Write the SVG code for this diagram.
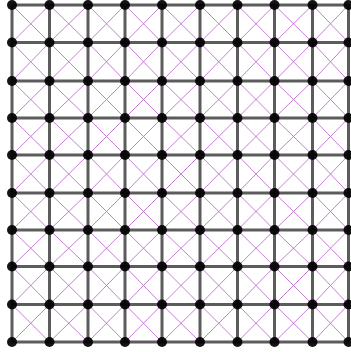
<svg xmlns="http://www.w3.org/2000/svg" width="351" height="352" viewBox="0 0 351 352">
<style>
.n{fill:#000;fill-opacity:0.92;}
.g{stroke:#262626;stroke-opacity:0.75;stroke-width:3;fill:none;}
.d{stroke:#c070d0;stroke-width:0.9;fill:none;}
</style>
<rect width="351" height="352" fill="#fff"/>
<g id="connectors">
<g id="grid">
<line class="g" x1="12" y1="5" x2="348.5" y2="5"/>
<line class="g" x1="12" y1="42.5" x2="348.5" y2="42.5"/>
<line class="g" x1="12" y1="81" x2="348.5" y2="81"/>
<line class="g" x1="12" y1="118" x2="348.5" y2="118"/>
<line class="g" x1="12" y1="155" x2="348.5" y2="155"/>
<line class="g" x1="12" y1="193" x2="348.5" y2="193"/>
<line class="g" x1="12" y1="230" x2="348.5" y2="230"/>
<line class="g" x1="12" y1="266.5" x2="348.5" y2="266.5"/>
<line class="g" x1="12" y1="304.5" x2="348.5" y2="304.5"/>
<line class="g" x1="12" y1="342" x2="348.5" y2="342"/>
<line class="g" x1="12" y1="5" x2="12" y2="342"/>
<line class="g" x1="49.5" y1="5" x2="49.5" y2="342"/>
<line class="g" x1="88" y1="5" x2="88" y2="342"/>
<line class="g" x1="125" y1="5" x2="125" y2="342"/>
<line class="g" x1="162" y1="5" x2="162" y2="342"/>
<line class="g" x1="200" y1="5" x2="200" y2="342"/>
<line class="g" x1="237.5" y1="5" x2="237.5" y2="342"/>
<line class="g" x1="274.5" y1="5" x2="274.5" y2="342"/>
<line class="g" x1="312.5" y1="5" x2="312.5" y2="342"/>
<line class="g" x1="348.5" y1="5" x2="348.5" y2="342"/>
</g>
<g id="diagonals">
<polyline class="d" points="12,5 49.5,42.5 88,81 125,118 162,155 200,193 237.5,230 274.5,266.5 312.5,304.5 348.5,342"/>
<polyline class="d" points="49.5,5 88,42.5 125,81 162,118 200,155 237.5,193 274.5,230 312.5,266.5 348.5,304.5"/>
<polyline class="d" points="88,5 125,42.5 162,81 200,118 237.5,155 274.5,193 312.5,230 348.5,266.5"/>
<polyline class="d" points="125,5 162,42.5 200,81 237.5,118 274.5,155 312.5,193 348.5,230"/>
<polyline class="d" points="162,5 200,42.5 237.5,81 274.5,118 312.5,155 348.5,193"/>
<polyline class="d" points="200,5 237.5,42.5 274.5,81 312.5,118 348.5,155"/>
<polyline class="d" points="237.5,5 274.5,42.5 312.5,81 348.5,118"/>
<polyline class="d" points="274.5,5 312.5,42.5 348.5,81"/>
<polyline class="d" points="312.5,5 348.5,42.5"/>
<polyline class="d" points="12,42.5 49.5,81 88,118 125,155 162,193 200,230 237.5,266.5 274.5,304.5 312.5,342"/>
<polyline class="d" points="12,81 49.5,118 88,155 125,193 162,230 200,266.5 237.5,304.5 274.5,342"/>
<polyline class="d" points="12,118 49.5,155 88,193 125,230 162,266.5 200,304.5 237.5,342"/>
<polyline class="d" points="12,155 49.5,193 88,230 125,266.5 162,304.5 200,342"/>
<polyline class="d" points="12,193 49.5,230 88,266.5 125,304.5 162,342"/>
<polyline class="d" points="12,230 49.5,266.5 88,304.5 125,342"/>
<polyline class="d" points="12,266.5 49.5,304.5 88,342"/>
<polyline class="d" points="12,304.5 49.5,342"/>
<polyline class="d" points="49.5,5 12,42.5"/>
<polyline class="d" points="88,5 49.5,42.5 12,81"/>
<polyline class="d" points="125,5 88,42.5 49.5,81 12,118"/>
<polyline class="d" points="162,5 125,42.5 88,81 49.5,118 12,155"/>
<polyline class="d" points="200,5 162,42.5 125,81 88,118 49.5,155 12,193"/>
<polyline class="d" points="237.5,5 200,42.5 162,81 125,118 88,155 49.5,193 12,230"/>
<polyline class="d" points="274.5,5 237.5,42.5 200,81 162,118 125,155 88,193 49.5,230 12,266.5"/>
<polyline class="d" points="312.5,5 274.5,42.5 237.5,81 200,118 162,155 125,193 88,230 49.5,266.5 12,304.5"/>
<polyline class="d" points="348.5,5 312.5,42.5 274.5,81 237.5,118 200,155 162,193 125,230 88,266.5 49.5,304.5 12,342"/>
<polyline class="d" points="348.5,42.5 312.5,81 274.5,118 237.5,155 200,193 162,230 125,266.5 88,304.5 49.5,342"/>
<polyline class="d" points="348.5,81 312.5,118 274.5,155 237.5,193 200,230 162,266.5 125,304.5 88,342"/>
<polyline class="d" points="348.5,118 312.5,155 274.5,193 237.5,230 200,266.5 162,304.5 125,342"/>
<polyline class="d" points="348.5,155 312.5,193 274.5,230 237.5,266.5 200,304.5 162,342"/>
<polyline class="d" points="348.5,193 312.5,230 274.5,266.5 237.5,304.5 200,342"/>
<polyline class="d" points="348.5,230 312.5,266.5 274.5,304.5 237.5,342"/>
<polyline class="d" points="348.5,266.5 312.5,304.5 274.5,342"/>
<polyline class="d" points="348.5,304.5 312.5,342"/>
</g>
</g>
<g id="nodes">
<g id="n0_0"><circle class="n" cx="12" cy="5" r="5"/></g>
<g id="n0_1"><circle class="n" cx="49.5" cy="5" r="5"/></g>
<g id="n0_2"><circle class="n" cx="88" cy="5" r="5"/></g>
<g id="n0_3"><circle class="n" cx="125" cy="5" r="5"/></g>
<g id="n0_4"><circle class="n" cx="162" cy="5" r="5"/></g>
<g id="n0_5"><circle class="n" cx="200" cy="5" r="5"/></g>
<g id="n0_6"><circle class="n" cx="237.5" cy="5" r="5"/></g>
<g id="n0_7"><circle class="n" cx="274.5" cy="5" r="5"/></g>
<g id="n0_8"><circle class="n" cx="312.5" cy="5" r="5"/></g>
<g id="n0_9"><circle class="n" cx="348.5" cy="5" r="5"/></g>
<g id="n1_0"><circle class="n" cx="12" cy="42.5" r="5"/></g>
<g id="n1_1"><circle class="n" cx="49.5" cy="42.5" r="5"/></g>
<g id="n1_2"><circle class="n" cx="88" cy="42.5" r="5"/></g>
<g id="n1_3"><circle class="n" cx="125" cy="42.5" r="5"/></g>
<g id="n1_4"><circle class="n" cx="162" cy="42.5" r="5"/></g>
<g id="n1_5"><circle class="n" cx="200" cy="42.5" r="5"/></g>
<g id="n1_6"><circle class="n" cx="237.5" cy="42.5" r="5"/></g>
<g id="n1_7"><circle class="n" cx="274.5" cy="42.5" r="5"/></g>
<g id="n1_8"><circle class="n" cx="312.5" cy="42.5" r="5"/></g>
<g id="n1_9"><circle class="n" cx="348.5" cy="42.5" r="5"/></g>
<g id="n2_0"><circle class="n" cx="12" cy="81" r="5"/></g>
<g id="n2_1"><circle class="n" cx="49.5" cy="81" r="5"/></g>
<g id="n2_2"><circle class="n" cx="88" cy="81" r="5"/></g>
<g id="n2_3"><circle class="n" cx="125" cy="81" r="5"/></g>
<g id="n2_4"><circle class="n" cx="162" cy="81" r="5"/></g>
<g id="n2_5"><circle class="n" cx="200" cy="81" r="5"/></g>
<g id="n2_6"><circle class="n" cx="237.5" cy="81" r="5"/></g>
<g id="n2_7"><circle class="n" cx="274.5" cy="81" r="5"/></g>
<g id="n2_8"><circle class="n" cx="312.5" cy="81" r="5"/></g>
<g id="n2_9"><circle class="n" cx="348.5" cy="81" r="5"/></g>
<g id="n3_0"><circle class="n" cx="12" cy="118" r="5"/></g>
<g id="n3_1"><circle class="n" cx="49.5" cy="118" r="5"/></g>
<g id="n3_2"><circle class="n" cx="88" cy="118" r="5"/></g>
<g id="n3_3"><circle class="n" cx="125" cy="118" r="5"/></g>
<g id="n3_4"><circle class="n" cx="162" cy="118" r="5"/></g>
<g id="n3_5"><circle class="n" cx="200" cy="118" r="5"/></g>
<g id="n3_6"><circle class="n" cx="237.5" cy="118" r="5"/></g>
<g id="n3_7"><circle class="n" cx="274.5" cy="118" r="5"/></g>
<g id="n3_8"><circle class="n" cx="312.5" cy="118" r="5"/></g>
<g id="n3_9"><circle class="n" cx="348.5" cy="118" r="5"/></g>
<g id="n4_0"><circle class="n" cx="12" cy="155" r="5"/></g>
<g id="n4_1"><circle class="n" cx="49.5" cy="155" r="5"/></g>
<g id="n4_2"><circle class="n" cx="88" cy="155" r="5"/></g>
<g id="n4_3"><circle class="n" cx="125" cy="155" r="5"/></g>
<g id="n4_4"><circle class="n" cx="162" cy="155" r="5"/></g>
<g id="n4_5"><circle class="n" cx="200" cy="155" r="5"/></g>
<g id="n4_6"><circle class="n" cx="237.5" cy="155" r="5"/></g>
<g id="n4_7"><circle class="n" cx="274.5" cy="155" r="5"/></g>
<g id="n4_8"><circle class="n" cx="312.5" cy="155" r="5"/></g>
<g id="n4_9"><circle class="n" cx="348.5" cy="155" r="5"/></g>
<g id="n5_0"><circle class="n" cx="12" cy="193" r="5"/></g>
<g id="n5_1"><circle class="n" cx="49.5" cy="193" r="5"/></g>
<g id="n5_2"><circle class="n" cx="88" cy="193" r="5"/></g>
<g id="n5_3"><circle class="n" cx="125" cy="193" r="5"/></g>
<g id="n5_4"><circle class="n" cx="162" cy="193" r="5"/></g>
<g id="n5_5"><circle class="n" cx="200" cy="193" r="5"/></g>
<g id="n5_6"><circle class="n" cx="237.5" cy="193" r="5"/></g>
<g id="n5_7"><circle class="n" cx="274.5" cy="193" r="5"/></g>
<g id="n5_8"><circle class="n" cx="312.5" cy="193" r="5"/></g>
<g id="n5_9"><circle class="n" cx="348.5" cy="193" r="5"/></g>
<g id="n6_0"><circle class="n" cx="12" cy="230" r="5"/></g>
<g id="n6_1"><circle class="n" cx="49.5" cy="230" r="5"/></g>
<g id="n6_2"><circle class="n" cx="88" cy="230" r="5"/></g>
<g id="n6_3"><circle class="n" cx="125" cy="230" r="5"/></g>
<g id="n6_4"><circle class="n" cx="162" cy="230" r="5"/></g>
<g id="n6_5"><circle class="n" cx="200" cy="230" r="5"/></g>
<g id="n6_6"><circle class="n" cx="237.5" cy="230" r="5"/></g>
<g id="n6_7"><circle class="n" cx="274.5" cy="230" r="5"/></g>
<g id="n6_8"><circle class="n" cx="312.5" cy="230" r="5"/></g>
<g id="n6_9"><circle class="n" cx="348.5" cy="230" r="5"/></g>
<g id="n7_0"><circle class="n" cx="12" cy="266.5" r="5"/></g>
<g id="n7_1"><circle class="n" cx="49.5" cy="266.5" r="5"/></g>
<g id="n7_2"><circle class="n" cx="88" cy="266.5" r="5"/></g>
<g id="n7_3"><circle class="n" cx="125" cy="266.5" r="5"/></g>
<g id="n7_4"><circle class="n" cx="162" cy="266.5" r="5"/></g>
<g id="n7_5"><circle class="n" cx="200" cy="266.5" r="5"/></g>
<g id="n7_6"><circle class="n" cx="237.5" cy="266.5" r="5"/></g>
<g id="n7_7"><circle class="n" cx="274.5" cy="266.5" r="5"/></g>
<g id="n7_8"><circle class="n" cx="312.5" cy="266.5" r="5"/></g>
<g id="n7_9"><circle class="n" cx="348.5" cy="266.5" r="5"/></g>
<g id="n8_0"><circle class="n" cx="12" cy="304.5" r="5"/></g>
<g id="n8_1"><circle class="n" cx="49.5" cy="304.5" r="5"/></g>
<g id="n8_2"><circle class="n" cx="88" cy="304.5" r="5"/></g>
<g id="n8_3"><circle class="n" cx="125" cy="304.5" r="5"/></g>
<g id="n8_4"><circle class="n" cx="162" cy="304.5" r="5"/></g>
<g id="n8_5"><circle class="n" cx="200" cy="304.5" r="5"/></g>
<g id="n8_6"><circle class="n" cx="237.5" cy="304.5" r="5"/></g>
<g id="n8_7"><circle class="n" cx="274.5" cy="304.5" r="5"/></g>
<g id="n8_8"><circle class="n" cx="312.5" cy="304.5" r="5"/></g>
<g id="n8_9"><circle class="n" cx="348.5" cy="304.5" r="5"/></g>
<g id="n9_0"><circle class="n" cx="12" cy="342" r="5"/></g>
<g id="n9_1"><circle class="n" cx="49.5" cy="342" r="5"/></g>
<g id="n9_2"><circle class="n" cx="88" cy="342" r="5"/></g>
<g id="n9_3"><circle class="n" cx="125" cy="342" r="5"/></g>
<g id="n9_4"><circle class="n" cx="162" cy="342" r="5"/></g>
<g id="n9_5"><circle class="n" cx="200" cy="342" r="5"/></g>
<g id="n9_6"><circle class="n" cx="237.5" cy="342" r="5"/></g>
<g id="n9_7"><circle class="n" cx="274.5" cy="342" r="5"/></g>
<g id="n9_8"><circle class="n" cx="312.5" cy="342" r="5"/></g>
<g id="n9_9"><circle class="n" cx="348.5" cy="342" r="5"/></g>
</g>
</svg>
